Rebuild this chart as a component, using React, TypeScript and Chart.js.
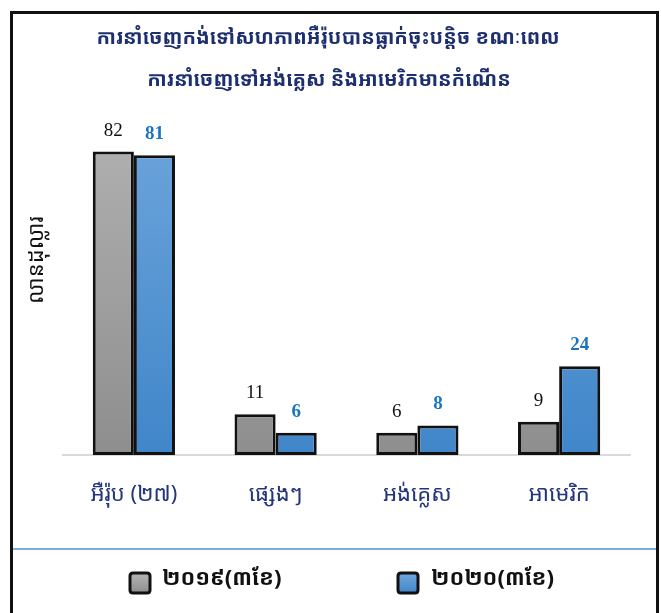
import React, { useEffect, useRef } from "react";
import { Chart, registerables } from "chart.js";

Chart.register(...registerables);

const categories = ["អឺរ៉ុប (២៧)", "ផ្សេងៗ", "អង់គ្លេស", "អាមេរិក"];
const series2019 = [82, 11, 6, 9];
const series2020 = [81, 6, 8, 24];
const seriesNames = ["២០១៩(៣ខែ)", "២០២០(៣ខែ)"];
const titleLines = [
  "ការនាំចេញកង់ទៅសហភាពអឺរ៉ុបបានធ្លាក់ចុះបន្តិច ខណៈពេល",
  "ការនាំចេញទៅអង់គ្លេស និងអាមេរិកមានកំណើន",
];
const yTitle = "លានដុល្លារ";

const KH = '"Noto Sans Khmer", "Khmer OS", "Khmer OS System", "Noto Sans", "DejaVu Sans", sans-serif';
const SERIF = '"Liberation Serif", "Times New Roman", "DejaVu Serif", serif';

function grayGrad(ctx: CanvasRenderingContext2D, top: number, bottom: number) {
  const g = ctx.createLinearGradient(0, top, 0, bottom);
  g.addColorStop(0, "#b5b5b5");
  g.addColorStop(1, "#8e8e8e");
  return g;
}
function blueGrad(ctx: CanvasRenderingContext2D, top: number, bottom: number) {
  const g = ctx.createLinearGradient(0, top, 0, bottom);
  g.addColorStop(0, "#72a8de");
  g.addColorStop(1, "#4086c9");
  return g;
}

const decorPlugin = {
  id: "decor",
  beforeDraw(chart: any) {
    const ctx: CanvasRenderingContext2D = chart.ctx;
    ctx.save();
    ctx.fillStyle = "#ffffff";
    ctx.fillRect(0, 0, chart.width, chart.height);
    ctx.restore();
  },
  afterDraw(chart: any) {
    const ctx: CanvasRenderingContext2D = chart.ctx;
    ctx.save();
    // frame
    ctx.strokeStyle = "#111111";
    ctx.lineWidth = 3;
    ctx.beginPath();
    ctx.moveTo(11.5, 640);
    ctx.lineTo(11.5, 12.5);
    ctx.lineTo(657.5, 12.5);
    ctx.lineTo(657.5, 640);
    ctx.stroke();
    // separator
    ctx.strokeStyle = "#7eaee0";
    ctx.lineWidth = 2;
    ctx.beginPath();
    ctx.moveTo(13, 549);
    ctx.lineTo(656, 549);
    ctx.stroke();
    // title
    ctx.fillStyle = "#1d2f6e";
    ctx.font = `bold 20px ${KH}`;
    ctx.textAlign = "center";
    ctx.textBaseline = "middle";
    ctx.fillText(titleLines[0], 328, 38);
    ctx.fillText(titleLines[1], 329, 80);
    // y title
    ctx.save();
    ctx.translate(37, 260);
    ctx.rotate(-Math.PI / 2);
    ctx.fillStyle = "#111111";
    ctx.font = `22px ${KH}`;
    ctx.fillText(yTitle, 0, 0);
    ctx.restore();
    // legend
    const items = [
      { x: 130, tx: 162, fill: grayGrad(ctx, 573, 593) },
      { x: 398, tx: 431, fill: blueGrad(ctx, 573, 593) },
    ];
    items.forEach((it, i) => {
      ctx.beginPath();
      const r = 3, bx = it.x, by = 573, bw = 20, bh = 20;
      ctx.moveTo(bx + r, by);
      ctx.lineTo(bx + bw - r, by);
      ctx.quadraticCurveTo(bx + bw, by, bx + bw, by + r);
      ctx.lineTo(bx + bw, by + bh - r);
      ctx.quadraticCurveTo(bx + bw, by + bh, bx + bw - r, by + bh);
      ctx.lineTo(bx + r, by + bh);
      ctx.quadraticCurveTo(bx, by + bh, bx, by + bh - r);
      ctx.lineTo(bx, by + r);
      ctx.quadraticCurveTo(bx, by, bx + r, by);
      ctx.closePath();
      ctx.fillStyle = it.fill;
      ctx.fill();
      ctx.strokeStyle = "#111111";
      ctx.lineWidth = 3;
      ctx.stroke();
      ctx.fillStyle = "#111111";
      ctx.font = `bold 22px ${KH}`;
      ctx.textAlign = "left";
      ctx.textBaseline = "middle";
      ctx.fillText(seriesNames[i], it.tx, 579);
    });
    ctx.restore();
  },
  afterDatasetsDraw(chart: any) {
    const ctx: CanvasRenderingContext2D = chart.ctx;
    ctx.save();
    ctx.textAlign = "center";
    ctx.textBaseline = "middle";
    chart.data.datasets.forEach((ds: any, di: number) => {
      const meta = chart.getDatasetMeta(di);
      meta.data.forEach((el: any, i: number) => {
        if (di === 0) {
          ctx.font = `19px ${SERIF}`;
          ctx.fillStyle = "#111111";
        } else {
          ctx.font = `bold 19px ${SERIF}`;
          ctx.fillStyle = "#1a74c2";
        }
        ctx.fillText(String(ds.data[i]), el.x, el.y - 21);
      });
    });
    ctx.restore();
  },
};

export default function App() {
  const ref = useRef<HTMLCanvasElement>(null);
  useEffect(() => {
    if (!ref.current) return;
    const chart = new Chart(ref.current, {
      type: "bar",
      data: {
        labels: categories,
        datasets: [
          {
            label: seriesNames[0],
            data: series2019,
            backgroundColor: (c: any) => {
              const a = c.chart.chartArea;
              if (!a) return "#a0a0a0";
              return grayGrad(c.chart.ctx, a.top, a.bottom);
            },
            borderColor: "#111111",
            borderWidth: 3,
            borderSkipped: false,
          },
          {
            label: seriesNames[1],
            data: series2020,
            backgroundColor: (c: any) => {
              const a = c.chart.chartArea;
              if (!a) return "#5b9bd5";
              return blueGrad(c.chart.ctx, a.top, a.bottom);
            },
            borderColor: "#111111",
            borderWidth: 3,
            borderSkipped: false,
          },
        ],
      },
      options: {
        animation: false,
        responsive: false,
        devicePixelRatio: 1,
        layout: { padding: { left: 63, right: 31, top: 85, bottom: 88 } },
        datasets: { bar: { categoryPercentage: 0.58, barPercentage: 1 } },
        plugins: {
          legend: { display: false },
          title: { display: false },
          tooltip: { enabled: false },
        },
        scales: {
          x: {
            grid: { display: false, drawTicks: false },
            border: { display: true, color: "#d9d9d9", width: 2 },
            ticks: {
              color: "#24357a",
              font: { family: KH, size: 22 },
              padding: 27,
            },
            afterFit: (s: any) => {
              s.height = 70;
            },
          },
          y: {
            display: false,
            min: 0,
            max: 100,
          },
        },
      },
      plugins: [decorPlugin],
    });
    return () => chart.destroy();
  }, []);
  return (
    <div style={{ position: "fixed", left: 0, top: 0, width: 661, height: 613, background: "#fff" }}>
      <canvas ref={ref} width={661} height={613} style={{ width: 661, height: 613, display: "block" }} />
    </div>
  );
}
